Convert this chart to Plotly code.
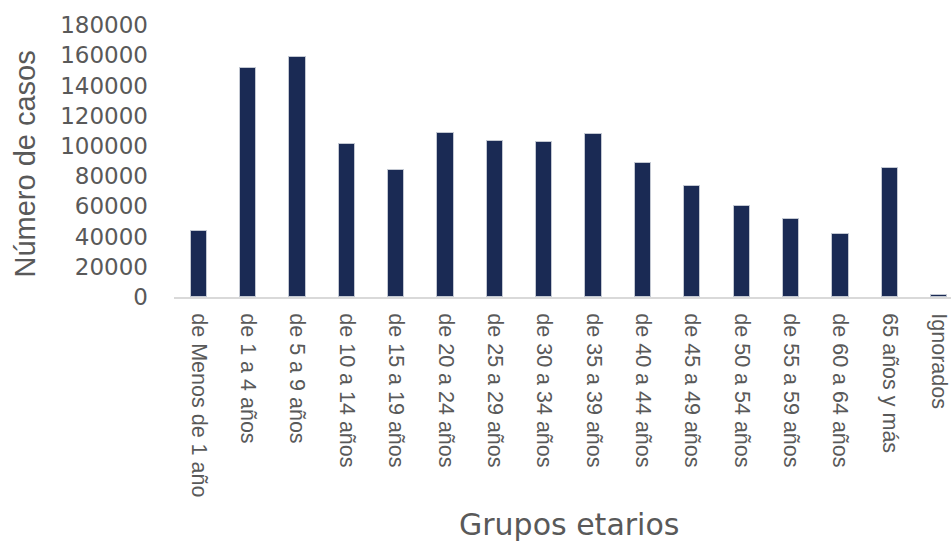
import plotly.graph_objects as go

# Casos por grupo etario
grupos = [
    "de Menos de 1 año", "de 1 a 4 años", "de 5 a 9 años", "de 10 a 14 años",
    "de 15 a 19 años", "de 20 a 24 años", "de 25 a 29 años", "de 30 a 34 años",
    "de 35 a 39 años", "de 40 a 44 años", "de 45 a 49 años", "de 50 a 54 años",
    "de 55 a 59 años", "de 60 a 64 años", "65 años y más", "Ignorados",
]
casos = [
    43700, 151800, 158600, 101400, 83800, 108300, 103400, 102300,
    107600, 88800, 73600, 59900, 51500, 42000, 85500, 1500,
]
y_ticks = [0, 20000, 40000, 60000, 80000, 100000, 120000, 140000, 160000, 180000]

GRIS = "#595959"
AZUL = "#1a2a54"

fig = go.Figure(
    go.Bar(
        x=grupos,
        y=casos,
        width=0.33,
        marker=dict(color=AZUL, line=dict(color="#c3c8d2", width=1)),
    )
)

fig.update_layout(
    width=951,
    height=542,
    margin=dict(l=174, r=0, t=25, b=245),
    paper_bgcolor="white",
    plot_bgcolor="white",
    showlegend=False,
    bargap=0,
    font=dict(family="Liberation Sans, Arial, sans-serif", color=GRIS),
)

fig.update_xaxes(
    type="category",
    range=[-0.5, 15.24],
    tickangle=90,
    tickfont=dict(family="Liberation Sans, Arial, sans-serif", size=21.5, color=GRIS),
    showline=True,
    linecolor="#d9d9d9",
    linewidth=2,
    showgrid=False,
    ticks="",
    ticklabelstandoff=10,
)

fig.update_yaxes(
    range=[0, 180000],
    tickvals=y_ticks,
    ticktext=[str(v) for v in y_ticks],
    tickfont=dict(family="DejaVu Sans, sans-serif", size=23, color=GRIS),
    showline=False,
    showgrid=False,
    zeroline=False,
    ticks="",
    ticklabelstandoff=25,
)

# Títulos de los ejes
fig.add_annotation(
    text="Número de casos",
    xref="paper", yref="paper",
    x=-0.192, y=0.49,
    xanchor="center", yanchor="middle",
    textangle=-90,
    showarrow=False,
    font=dict(family="Liberation Sans, Arial, sans-serif", size=29, color=GRIS),
)
fig.add_annotation(
    text="Grupos etarios",
    xref="paper", yref="paper",
    x=0.509, y=-0.835,
    xanchor="center", yanchor="middle",
    showarrow=False,
    font=dict(family="DejaVu Sans, sans-serif", size=30, color=GRIS),
)

fig.write_html("out.html")
